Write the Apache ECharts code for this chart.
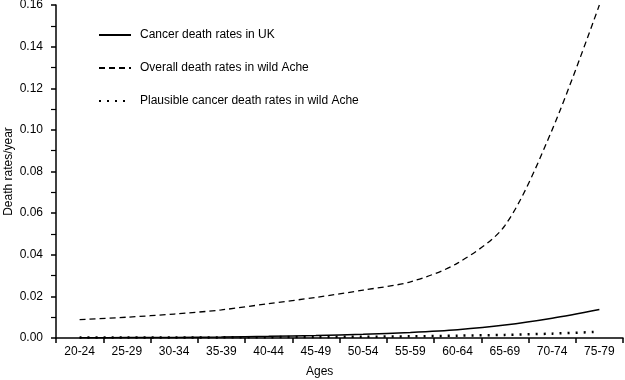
<!DOCTYPE html>
<html><head><meta charset="utf-8">
<script src="https://cdn.jsdelivr.net/npm/echarts@6/dist/echarts.min.js"></script>
<style>html,body{margin:0;padding:0;background:#fff}#c{width:625px;height:380px}</style>
</head><body><div id="c"></div>
<script>
var categories = ['20-24','25-29','30-34','35-39','40-44','45-49','50-54','55-59','60-64','65-69','70-74','75-79'];
var ukCancer = [0.0001,0.0002,0.0003,0.0005,0.0008,0.0012,0.0018,0.0027,0.0040,0.0062,0.0095,0.0137];
var acheOverall = [0.0088,0.0100,0.0115,0.0135,0.0165,0.0195,0.0230,0.0270,0.0360,0.0540,0.1000,0.1600];
var acheCancer = [0.0002,0.0002,0.0003,0.0003,0.0004,0.0005,0.0006,0.0008,0.0011,0.0015,0.0021,0.0030];
var seriesNames = ['Cancer death rates in UK','Overall death rates in wild Ache','Plausible cancer death rates in wild Ache'];

var font = '"Liberation Sans", Arial, Helvetica, sans-serif';
var chart = echarts.init(document.getElementById('c'));
chart.setOption({
  animation: false,
  backgroundColor: '#fff',
  textStyle: {fontFamily: font, color: '#000'},
  grid: {left: 56, right: 2, top: 5, bottom: 42, containLabel: false, outerBoundsMode: 'none'},
  legend: {
    orient: 'vertical', left: 93, top: 24, itemGap: 21, itemWidth: 32, itemHeight: 12,
    itemStyle: {opacity: 0},
    textStyle: {fontFamily: font, fontSize: 12, color: '#000', padding: [0, 0, 0, 4]},
    data: seriesNames
  },
  xAxis: {
    type: 'category', data: categories, boundaryGap: true,
    axisLine: {lineStyle: {color: '#000', width: 1.5}},
    axisTick: {show: true, length: 5, interval: 0, alignWithLabel: false, lineStyle: {color: '#000', width: 1.5}},
    axisLabel: {interval: 0, margin: 8, fontSize: 12, color: '#000', fontFamily: font},
    splitLine: {show: false}
  },
  yAxis: {
    type: 'value', min: 0, max: 0.16, interval: 0.02,
    name: 'Death rates/year', nameLocation: 'middle', nameGap: 41, nameMoveOverlap: false,
    nameTextStyle: {fontSize: 12, color: '#000', fontFamily: font},
    axisLine: {show: true, lineStyle: {color: '#000', width: 1.5}},
    axisTick: {show: true, length: 5, lineStyle: {color: '#000', width: 1.5}},
    minorTick: {show: true, splitNumber: 2, length: 5, lineStyle: {color: '#000', width: 1.2}},
    axisLabel: {margin: 13, fontSize: 12, color: '#000', fontFamily: font, formatter: function(v){return v.toFixed(2);}},
    splitLine: {show: false}
  },
  graphic: [{type: 'text', left: 306, top: 366, style: {text: 'Ages', font: '12px ' + font, fill: '#000'}}],
  series: [
    {name: seriesNames[0], type: 'line', data: ukCancer, smooth: 0.3, symbol: 'none',
     itemStyle: {color: '#000'}, lineStyle: {color: '#000', width: 1.5, type: 'solid'}, z: 3},
    {name: seriesNames[1], type: 'line', data: acheOverall, smooth: 0.3, symbol: 'none',
     itemStyle: {color: '#000'}, lineStyle: {color: '#000', width: 1.3, type: [6, 4]}, z: 2},
    {name: seriesNames[2], type: 'line', data: acheCancer, smooth: 0.3, symbol: 'none',
     itemStyle: {color: '#000'}, lineStyle: {color: '#000', width: 2.5, type: [2, 6]}, z: 1}
  ]
});
</script></body></html>
